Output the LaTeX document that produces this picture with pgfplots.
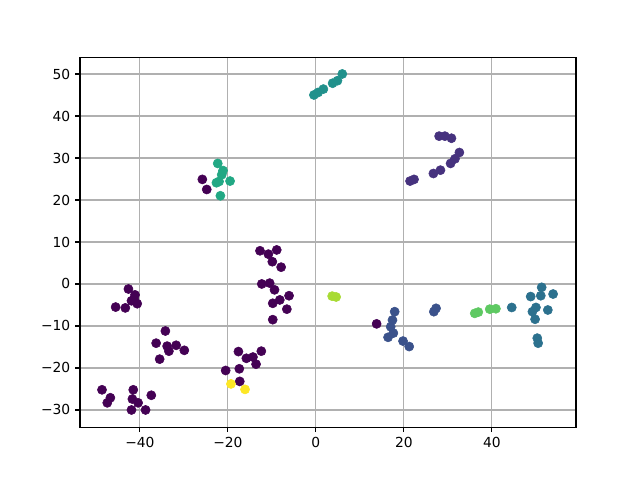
\documentclass[border=0pt]{standalone}
\usepackage{fontspec}
\setmainfont{DejaVu Sans}
\usepackage{pgfplots}
\pgfplotsset{compat=1.18}
\definecolor{c0}{HTML}{440154}
\definecolor{c1}{HTML}{46327E}
\definecolor{c2}{HTML}{3B528B}
\definecolor{c3}{HTML}{2C718E}
\definecolor{c4}{HTML}{21918C}
\definecolor{c5}{HTML}{22A884}
\definecolor{c7}{HTML}{5EC962}
\definecolor{c8}{HTML}{A8DB34}
\definecolor{c9}{HTML}{FDE725}
\begin{document}
\begin{tikzpicture}
\begin{axis}[
  scale only axis, width=4.96in, height=3.696in,
  xmin=-53.6, xmax=59.1, ymin=-34.1, ymax=53.9,
  xtick={-40,-20,0,20,40}, ytick={-30,-20,-10,0,10,20,30,40,50},
  xticklabels={−40,−20,0,20,40},
  yticklabels={−30,−20,−10,0,10,20,30,40,50},
  grid=major, major grid style={color=black!31, line width=0.8pt},
  tick align=outside, tick pos=left, major tick length=3.5pt,
  tick style={black, line width=0.8pt},
  axis line style={line width=0.8pt},
  ticklabel style={font=\fontsize{10}{12}\selectfont},
  every axis plot/.append style={only marks, mark=*, mark size=3.3pt},
]
\addplot[c0, mark options={draw=c0, fill=c0}] coordinates {
(-42.6,-1.2) (-41.1,-2.6) (-41.9,-4.0) (-40.6,-4.7) (-45.5,-5.5) (-43.3,-5.7) (-41.3,-3.6)
(-34.2,-11.2) (-36.3,-14.1) (-33.8,-14.8) (-31.75,-14.6) (-29.9,-15.8) (-33.4,-16.0) (-35.5,-17.9)
(-48.6,-25.2) (-46.7,-27.1) (-47.4,-28.3) (-41.5,-25.2) (-41.7,-27.4) (-40.4,-28.3) (-37.4,-26.5) (-41.9,-30) (-38.7,-30)
(-12.7,7.9) (-10.8,7.1) (-8.9,8.1) (-9.9,5.3) (-7.9,4.0) (-12.3,0) (-10.5,0.2) (-9.4,-1.4) (-6.1,-2.8) (-8.2,-3.8) (-9.8,-4.6) (-6.6,-6.0) (-9.8,-8.5)
(-17.6,-16.1) (-12.4,-16.0) (-15.8,-17.7) (-14.3,-17.4) (-13.6,-19.1) (-20.5,-20.6) (-17.4,-20.2) (-17.3,-23.2)
(-25.8,24.9) (-24.8,22.5) (13.8,-9.5)
};
\addplot[c1, mark options={draw=c1, fill=c1}] coordinates {
(28.0,35.2) (29.3,35.2) (30.8,34.7) (32.6,31.3) (31.6,29.8) (30.6,28.7) (28.3,27.1) (26.7,26.3) (22.3,24.9) (21.4,24.5)
};
\addplot[c2, mark options={draw=c2, fill=c2}] coordinates {
(17.9,-6.6) (17.4,-8.6) (17.0,-10.2) (17.6,-11.7) (16.4,-12.7) (19.8,-13.6) (21.2,-14.9) (26.8,-6.6) (27.3,-5.8)
};
\addplot[c3, mark options={draw=c3, fill=c3}] coordinates {
(44.5,-5.6) (48.8,-3.0) (51.3,-0.8) (51.1,-2.8) (53.9,-2.4) (50.0,-5.6) (49.2,-6.6) (52.7,-6.2) (49.8,-8.4) (50.3,-12.9) (50.5,-14.1)
};
\addplot[c4, mark options={draw=c4, fill=c4}] coordinates {
(-0.45,45.0) (0.5,45.6) (1.7,46.4) (3.8,47.8) (4.9,48.4) (6.0,50.0)
};
\addplot[c5, mark options={draw=c5, fill=c5}] coordinates {
(-22.3,28.7) (-21.1,27.0) (-21.4,26.0) (-22.6,24.1) (-22.0,24.4) (-19.5,24.5) (-21.7,21.0)
};
\addplot[c7, mark options={draw=c7, fill=c7}] coordinates {
(36.1,-7.0) (36.9,-6.7) (39.5,-6.0) (40.9,-5.9)
};
\addplot[c8, mark options={draw=c8, fill=c8}] coordinates {
(3.7,-2.9) (4.6,-3.1)
};
\addplot[c9, mark options={draw=c9, fill=c9}] coordinates {
(-19.3,-23.8) (-16.1,-25.1)
};
\end{axis}
\useasboundingbox ([shift={(-0.8in,-0.528in)}]current axis.south west) rectangle ([shift={(0.64in,0.576in)}]current axis.north east);
\end{tikzpicture}
\end{document}
